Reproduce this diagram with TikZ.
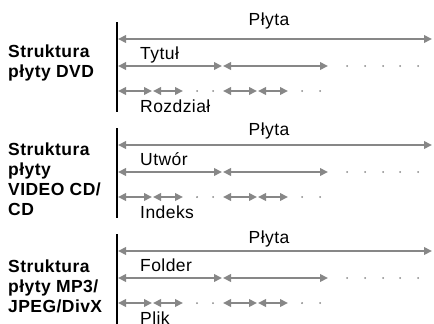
\documentclass[tikz,border=0pt]{standalone}
\usepackage{fontspec}
\setmainfont{Liberation Sans}[LetterSpace=2.5]
\usetikzlibrary{arrows.meta}
\definecolor{bar}{HTML}{878787}

\tikzset{
  span/.style={draw=bar,line width=2.4pt,{Triangle[length=8pt,width=7.5pt]}-{Triangle[length=8pt,width=7.5pt]}},
  level/.style={font=\fontsize{17.5}{20}\selectfont,inner sep=0pt},
  title/.style={font=\fontsize{17.5}{20}\selectfont\bfseries,inner sep=0pt,align=left,anchor=north west},
}

\begin{document}
\begin{tikzpicture}[x=1pt,y=-1pt]
  \useasboundingbox (0,0) rectangle (434,324);

  \foreach \i/\y/\py/\ty/\lbl/\two/\three in {
      1/39/25/45/{Struktura\\płyty DVD}/Tytuł/Rozdział,
      2/145/135/143/{Struktura\\płyty\\VIDEO CD/\\CD}/Utwór/Indeks,
      3/251/243/260/{Struktura\\płyty MP3/\\JPEG/DivX}/Folder/Plik}{
    % section label
    \node[title] (lbl\i) at (8,\ty) {\lbl};

    % start line
    \coordinate (top\i) at (117,\y-17);
    \coordinate (bot\i) at (117,\y+73);
    \draw[line width=1.2pt] (top\i) -- (bot\i);

    % whole disc
    \node[level,anchor=base] (disc\i) at (269,\py) {Płyta};
    \coordinate (dw\i) at (118,\y);
    \coordinate (de\i) at (432,\y);
    \draw[span] (dw\i) -- (de\i);

    % second level
    \node[level,anchor=base west] (part\i) at (140,\y+20) {\two};
    \foreach \a/\b [count=\k] in {118/222,223/328}{
      \coordinate (p\i\k w) at (\a,\y+27);
      \coordinate (p\i\k e) at (\b,\y+27);
      \draw[span] (p\i\k w) -- (p\i\k e);
    }
    \foreach \x in {347,365,383,400,418}
      \fill[bar] (\x,\y+27) circle (1pt);

    % third level
    \foreach \a/\b [count=\k] in {118/152,153/183,223/257,258/288}{
      \coordinate (s\i\k w) at (\a,\y+52);
      \coordinate (s\i\k e) at (\b,\y+52);
      \draw[span] (s\i\k w) -- (s\i\k e);
    }
    \foreach \x in {197,213,302,320}
      \fill[bar] (\x,\y+52) circle (1pt);
    \node[level,anchor=base west] (sub\i) at (140,\y+73) {\three};
  }
\end{tikzpicture}
\end{document}
